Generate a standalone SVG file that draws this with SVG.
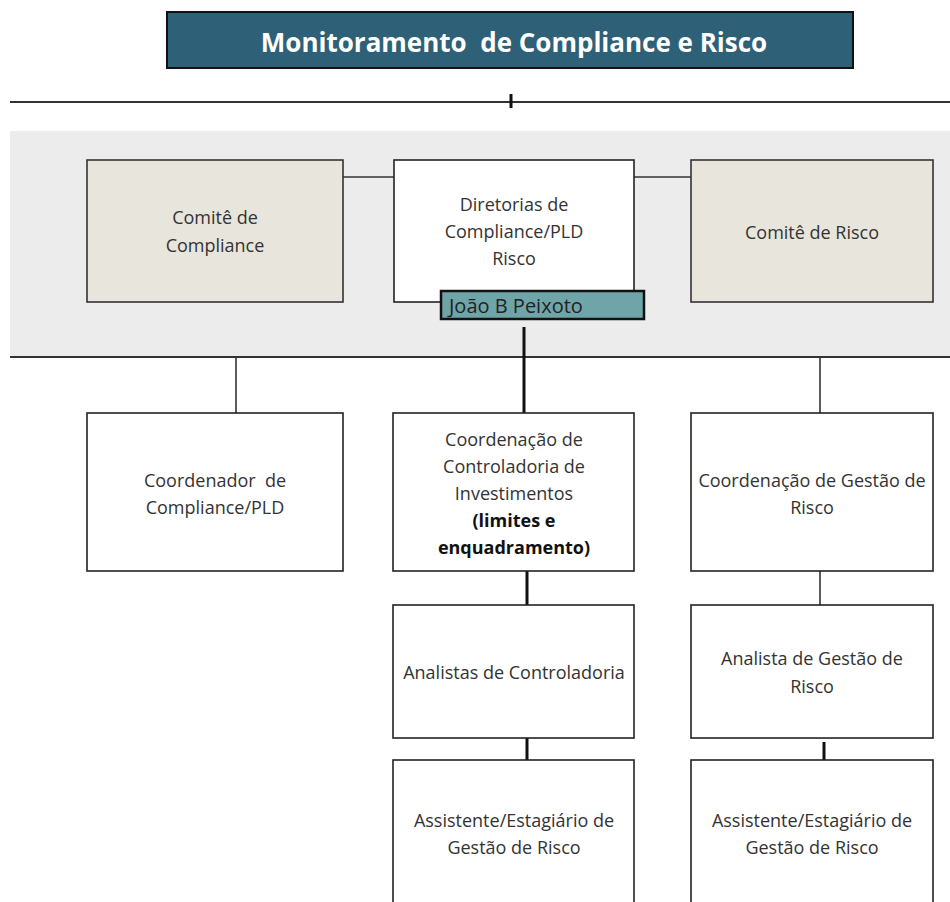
<svg xmlns="http://www.w3.org/2000/svg" width="950" height="902" viewBox="0 0 950 902">
<style>
text{font-family:"Open Sans","Liberation Sans",sans-serif;font-size:18px;fill:#333;text-anchor:middle}
.box{fill:#fff;stroke:#222;stroke-width:1.6}
.beige{fill:#e8e5dc;stroke:#333;stroke-width:1.6}
.thin{stroke:#333;stroke-width:1.6;fill:none}
.thick{stroke:#111;stroke-width:3;fill:none}
.b{font-weight:bold;fill:#111}
</style>
<rect x="0" y="0" width="950" height="902" fill="#fff"/>
<rect x="10" y="131" width="940" height="226" fill="#ececec"/>
<g id="title">
<rect x="167" y="12" width="686" height="56" fill="#2e6077" stroke="#111" stroke-width="2"/>
<text x="514" y="52" xml:space="preserve" style="font-size:26px;font-weight:bold;fill:#fff">Monitoramento  de Compliance e Risco</text>
</g>
<g id="connectors">
<line class="thin" x1="10" y1="102" x2="950" y2="102" style="stroke-width:2"/>
<line class="thick" x1="511" y1="94" x2="511" y2="108"/>
<line class="thin" x1="10" y1="357" x2="950" y2="357" style="stroke-width:2"/>
<line class="thin" x1="343" y1="177" x2="394" y2="177"/>
<line class="thin" x1="634" y1="177" x2="691" y2="177"/>
<line class="thick" x1="524" y1="327" x2="524" y2="413"/>
<line class="thin" x1="236" y1="357" x2="236" y2="413"/>
<line class="thin" x1="820" y1="357" x2="820" y2="413"/>
<line class="thick" x1="527" y1="571" x2="527" y2="605"/>
<line class="thin" x1="820" y1="571" x2="820" y2="605"/>
<line class="thick" x1="527" y1="738" x2="527" y2="760"/>
<line class="thick" x1="824" y1="742" x2="824" y2="760"/>
</g>
<g id="comite-compliance">
<rect class="beige" x="87" y="160" width="256" height="142"/>
<text x="215" y="224">Comitê de</text>
<text x="215" y="252">Compliance</text>
</g>
<g id="diretorias">
<rect class="box" x="394" y="160" width="240" height="142"/>
<text x="514" y="211">Diretorias de</text>
<text x="514" y="238">Compliance/PLD</text>
<text x="514" y="265">Risco</text>
</g>
<g id="comite-risco">
<rect class="beige" x="691" y="160" width="242" height="142"/>
<text x="812" y="239">Comitê de Risco</text>
</g>
<g id="peixoto">
<rect x="441" y="291" width="203" height="28" fill="#6fa5a8" stroke="#111" stroke-width="2.5"/>
<text x="449" y="313" style="text-anchor:start;font-size:20px;fill:#222">João B Peixoto</text>
</g>
<g id="coordenador-compliance">
<rect class="box" x="87" y="413" width="256" height="158"/>
<text x="215" y="487" xml:space="preserve">Coordenador  de</text>
<text x="215" y="514">Compliance/PLD</text>
</g>
<g id="coord-controladoria">
<rect class="box" x="393" y="413" width="241" height="158"/>
<text x="514" y="446">Coordenação de</text>
<text x="514" y="473">Controladoria de</text>
<text x="514" y="500">Investimentos</text>
<text x="514" y="527" class="b">(limites e</text>
<text x="514" y="554" class="b">enquadramento)</text>
</g>
<g id="coord-gestao-risco">
<rect class="box" x="691" y="413" width="242" height="158"/>
<text x="812" y="487">Coordenação de Gestão de</text>
<text x="812" y="514">Risco</text>
</g>
<g id="analistas-controladoria">
<rect class="box" x="393" y="605" width="241" height="133"/>
<text x="514" y="679">Analistas de Controladoria</text>
</g>
<g id="analista-gestao-risco">
<rect class="box" x="691" y="605" width="242" height="133"/>
<text x="812" y="665">Analista de Gestão de</text>
<text x="812" y="693">Risco</text>
</g>
<g id="assistente-1">
<rect class="box" x="393" y="760" width="241" height="160"/>
<text x="514" y="827">Assistente/Estagiário de</text>
<text x="514" y="854">Gestão de Risco</text>
</g>
<g id="assistente-2">
<rect class="box" x="691" y="760" width="242" height="160"/>
<text x="812" y="827">Assistente/Estagiário de</text>
<text x="812" y="854">Gestão de Risco</text>
</g>
</svg>
